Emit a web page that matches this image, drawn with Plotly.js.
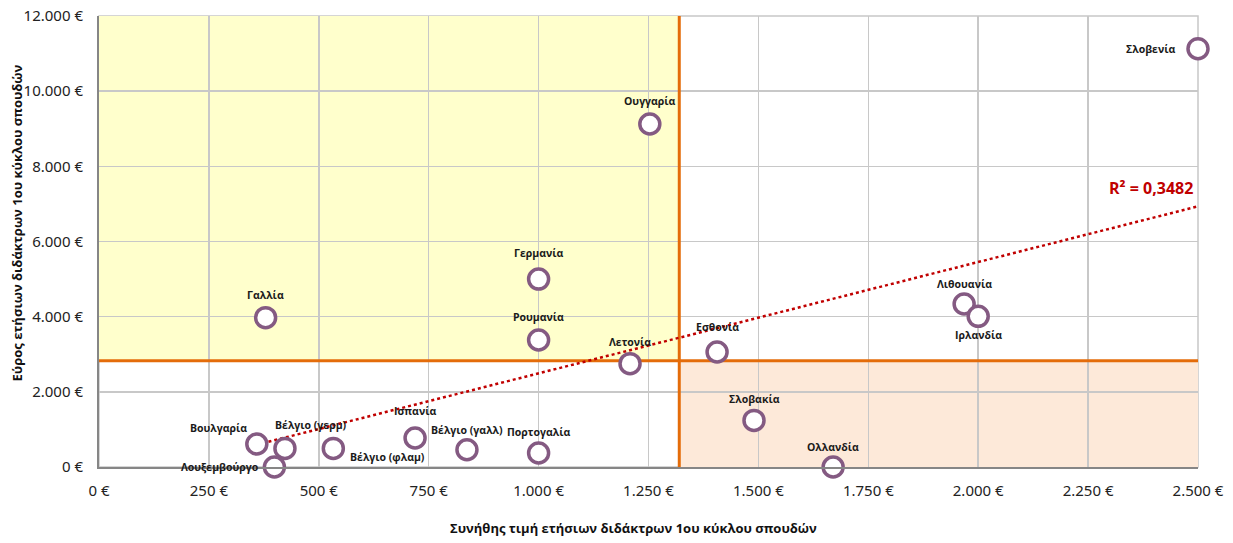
<!DOCTYPE html>
<html>
<head>
<meta charset="utf-8">
<script src="https://cdn.plot.ly/plotly-3.0.1.min.js"></script>
<style>html,body{margin:0;padding:0;background:#fff;}#chart{width:1233px;height:543px;}</style>
</head>
<body>
<div id="chart"></div>
<script>
// ---- data ----
const countries = ["Σλοβενία","Ουγγαρία","Γερμανία","Ρουμανία","Λετονία","Εσθονία","Σλοβακία","Ολλανδία","Λιθουανία","Ιρλανδία","Γαλλία","Βουλγαρία","Βέλγιο (γερμ)","Λουξεμβούργο","Βέλγιο (φλαμ)","Ισπανία","Βέλγιο (γαλλ)","Πορτογαλία"];
const usualFee = [2500,1253,1000,1000,1208,1406,1490,1670,1968,2000,379,359,423,399,533,719,837,1000];
const feeRange = [11130,9127,5000,3380,2749,3060,1240,0,4337,4008,3973,612,495,0,495,771,460,372];
const xThreshold = 1320;
const yThreshold = 2829;
const xTickVals = [0,250,500,750,1000,1250,1500,1750,2000,2250,2500];
const xTickText = ["0 €","250 €","500 €","750 €","1.000 €","1.250 €","1.500 €","1.750 €","2.000 €","2.250 €","2.500 €"];
const yTickVals = [0,2000,4000,6000,8000,10000,12000];
const yTickText = ["0 €","2.000 €","4.000 €","6.000 €","8.000 €","10.000 €","12.000 €"];
const r2Text = "R² = 0,3482";
const xTitle = "Συνήθης τιμή ετήσιων διδάκτρων 1ου κύκλου σπουδών";
const yTitle = "Εύρος ετήσιων διδάκτρων 1ου κύκλου σπουδών";

// ---- label placement (style) ----
const labelAnchor = ["right","center","center","center","center","center","center","center","center","center","center","center","center","right","left","center","center","center"];
const labelDx = [-21,0,0,0,0,0,0,0,0,0,0,-38,26,-13,15,0,0,0];
const labelDy = [0,23,26,23,22,25,21,20,20,-19,23,16,23,0,-9,27,20,21];

// ---- trendline (least squares from the data) ----
const n = usualFee.length;
const mx = usualFee.reduce((a,b)=>a+b,0)/n;
const my = feeRange.reduce((a,b)=>a+b,0)/n;
let sxy=0, sxx=0;
for(let i=0;i<n;i++){sxy+=(usualFee[i]-mx)*(feeRange[i]-my); sxx+=(usualFee[i]-mx)**2;}
const slope = sxy/sxx, intercept = my - slope*mx;
const xMin = Math.min(...usualFee), xMax = Math.max(...usualFee);
const xRangeMax = xTickVals[xTickVals.length-1];
const yRangeMax = yTickVals[yTickVals.length-1];

const font = "'Open Sans', 'Noto Sans', sans-serif";
const tickFont = {family:"'Noto Sans', 'Open Sans', sans-serif", size:15, color:"#222"};
const traces = [
  {x:[xThreshold,xThreshold], y:[0,yRangeMax], mode:"lines", line:{color:"#E46C0A", width:3}, hoverinfo:"skip", showlegend:false, cliponaxis:false},
  {x:[0,xRangeMax], y:[yThreshold,yThreshold], mode:"lines", line:{color:"#E46C0A", width:3}, hoverinfo:"skip", showlegend:false, cliponaxis:false},
  {x:[xMin,xMax], y:[intercept+slope*xMin, intercept+slope*xMax], mode:"lines", line:{color:"#C00000", width:2.5, dash:"dot"}, hoverinfo:"skip", showlegend:false},
  {x:usualFee, y:feeRange, text:countries, mode:"markers", marker:{symbol:"circle", size:20, color:"#ffffff", line:{color:"#845A82", width:3.5}}, showlegend:false, cliponaxis:false}
];

const annotations = countries.map((c,i)=>({
  x:usualFee[i], y:feeRange[i], xref:"x", yref:"y", text:c, showarrow:false,
  xanchor:labelAnchor[i], yanchor:"middle", xshift:labelDx[i], yshift:labelDy[i],
  font:{family:font, size:10.5, color:"#1a1a1a", weight:"bold"}
}));
annotations.push({x:xRangeMax, y:7432, xref:"x", yref:"y", text:"<b>"+r2Text+"</b>", showarrow:false, xanchor:"right", yanchor:"middle", xshift:-3, font:{family:font, size:16, color:"#C00000"}});
annotations.push({x:0.5, y:-0.135, xref:"paper", yref:"paper", xshift:-15, text:"<b>"+xTitle+"</b>", showarrow:false, xanchor:"center", yanchor:"middle", font:{family:font, size:13, color:"#111"}});
annotations.push({x:0, y:0.54, xref:"paper", yref:"paper", xshift:-82, text:"<b>"+yTitle+"</b>", showarrow:false, textangle:-90, xanchor:"center", yanchor:"middle", font:{family:font, size:13, color:"#111"}});

const layout = {
  width:1233, height:543,
  margin:{l:99, r:35, t:16, b:76},
  paper_bgcolor:"#ffffff", plot_bgcolor:"#ffffff",
  font:{family:font, size:13, color:"#222"},
  xaxis:{range:[0,xRangeMax], tickmode:"array", tickvals:xTickVals, ticktext:xTickText, tickfont:tickFont, showgrid:true, gridcolor:"#C8C8C8", gridwidth:1.5,
         showline:true, linecolor:"#868686", linewidth:2, mirror:false, zeroline:false, ticks:"", ticklabelstandoff:9, fixedrange:true},
  yaxis:{range:[0,yRangeMax], tickmode:"array", tickvals:yTickVals, ticktext:yTickText, tickfont:tickFont, showgrid:true, gridcolor:"#C8C8C8", gridwidth:1.5,
         showline:true, linecolor:"#868686", linewidth:2, zeroline:false, ticks:"", ticklabelstandoff:11, fixedrange:true},
  shapes:[
    {type:"rect", xref:"x", yref:"y", x0:0, x1:xThreshold, y0:yThreshold, y1:yRangeMax, fillcolor:"#FFFFCC", line:{width:0}, layer:"below"},
    {type:"rect", xref:"x", yref:"y", x0:xThreshold, x1:xRangeMax, y0:0, y1:yThreshold, fillcolor:"#FDE9D9", line:{width:0}, layer:"below"},
    {type:"rect", xref:"paper", yref:"paper", x0:0, x1:1, y0:0, y1:1, fillcolor:"rgba(0,0,0,0)", line:{width:1.5, color:"#C8C8C8"}, layer:"below"}
  ],
  annotations:annotations,
  showlegend:false
};

Plotly.newPlot("chart", traces, layout, {displayModeBar:false, staticPlot:true});
</script>
</body>
</html>
